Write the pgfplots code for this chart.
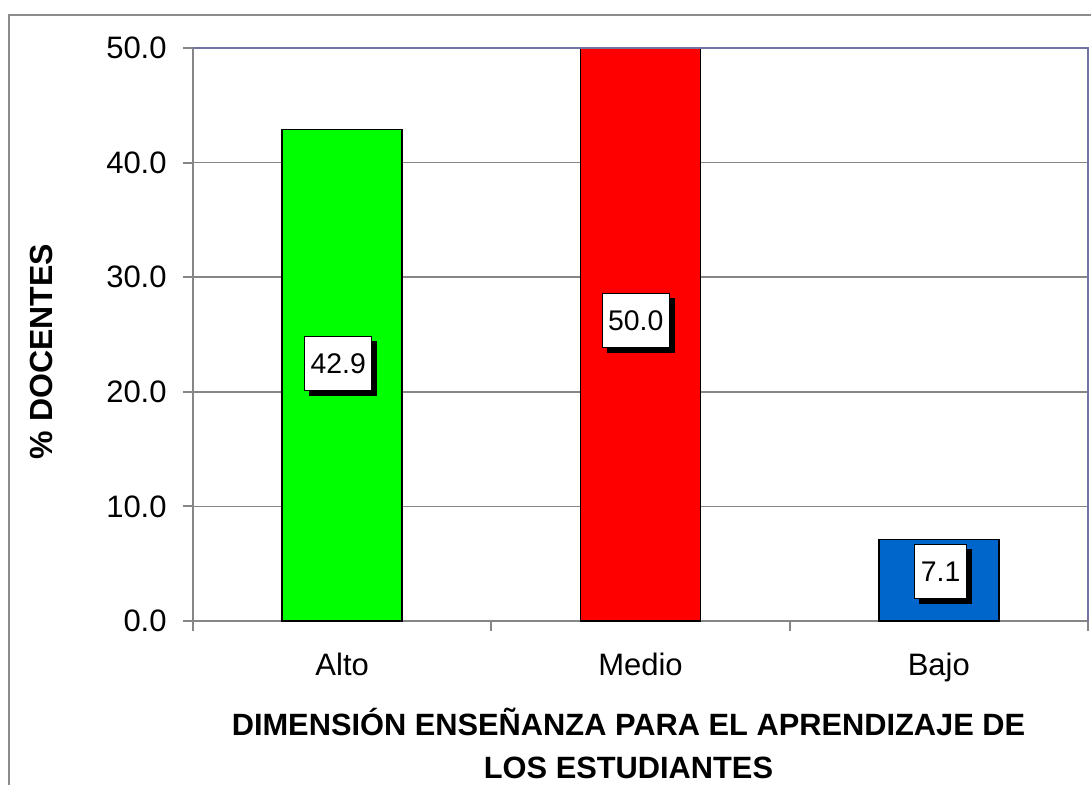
\documentclass[border=0pt]{standalone}
\usepackage{fontspec}
\setmainfont{Liberation Sans}
\usepackage{pgfplots}
\pgfplotsset{compat=1.18}
\usetikzlibrary{shadows}

\definecolor{framegray}{HTML}{8C8C8C}
\definecolor{axisgray}{HTML}{868686}
\definecolor{bordblue}{HTML}{7272A4}
\definecolor{barA}{HTML}{00FF00}
\definecolor{barM}{HTML}{FF0000}
\definecolor{barB}{HTML}{0066CC}

\begin{document}
\begin{tikzpicture}
\useasboundingbox (0,0) rectangle (545.5pt,392pt);
% outer chart frame (cut at the right and bottom)
\draw[framegray, line width=1pt] (4.5pt,-10pt) rectangle (560pt,384.5pt);

\begin{axis}[
  at={(96.5pt,81.5pt)}, anchor=south west,
  scale only axis,
  width=447.5pt, height=286.5pt,
  xmin=-0.5, xmax=2.5,
  ymin=0, ymax=50,
  clip=false,
  xtick={0,1,2},
  xticklabels={Alto,Medio,Bajo},
  minor xtick={-0.5,0.5,1.5,2.5},
  ytick={0,10,20,30,40,50},
  xtick pos=bottom, ytick pos=left,
  major x tick style={draw=none},
  tick align=outside,
  major tick length=5pt,
  minor tick length=5pt,
  tick style={axisgray, line width=1pt},
  ymajorgrids,
  major grid style={axisgray, line width=0.75pt},
  axis line style={axisgray, line width=1pt},
  tick label style={font=\fontsize{15.5}{18}\selectfont},
  yticklabel style={anchor=east, inner sep=0pt, xshift=-8pt},
  xticklabel style={anchor=north, inner sep=0pt, yshift=-11pt},
  /pgf/number format/assume math mode=true,
  yticklabel={\pgfmathprintnumber[fixed,fixed zerofill,precision=1]{\tick}},
]
\addplot[ybar, bar width=60pt, bar shift=0pt, fill=barA, draw=black, line width=0.75pt]
  coordinates {(0,42.9)};
\addplot[ybar, bar width=60pt, bar shift=0pt, fill=barM, draw=black, line width=0.75pt]
  coordinates {(1,50.0)};
\addplot[ybar, bar width=60pt, bar shift=0pt, fill=barB, draw=black, line width=0.75pt]
  coordinates {(2,7.1)};

% value labels (boxes sit around the middle of each bar)
\addplot[only marks, mark=none, nodes near coords, point meta=explicit symbolic,
  every node near coord/.append style={anchor=center, fill=white, draw=black,
    line width=0.5pt, inner xsep=3pt, inner ysep=0pt, minimum height=27pt,
    font=\fontsize{14.2}{16}\selectfont,
    drop shadow={shadow xshift=2.5pt, shadow yshift=-2.5pt, fill=black, opacity=1}}]
  coordinates {(-0.013,22.49)[42.9] (0.984,26.18)[50.0] (2.006,4.32)[7.1]};

\draw[bordblue, line width=1pt] (rel axis cs:0,1) -- (rel axis cs:1,1) -- (rel axis cs:1,0);
\end{axis}

\node[rotate=90, font=\bfseries\fontsize{16}{19}\selectfont] at (20.5pt,216.25pt) {\% DOCENTES};
\node[align=center, font=\bfseries\fontsize{15.4}{21.5}\selectfont] at (314.25pt,20.25pt)
  {DIMENSIÓN ENSEÑANZA PARA EL APRENDIZAJE DE\\LOS ESTUDIANTES};
\end{tikzpicture}
\end{document}
